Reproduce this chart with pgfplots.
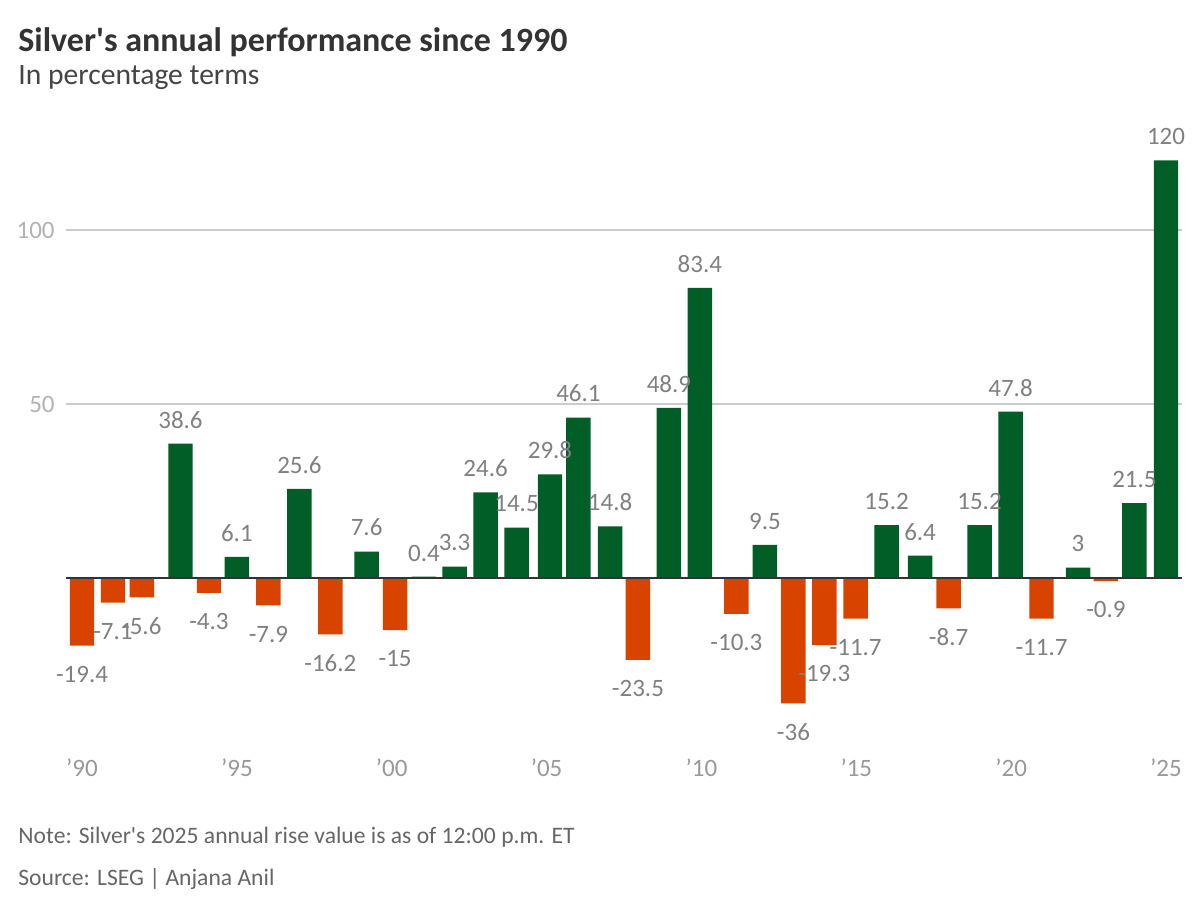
\documentclass[border=0pt]{standalone}
\usepackage{pgfplots}
\pgfplotsset{compat=1.18}
\usepackage{pgfplotstable}
\usepackage{fontspec}
\setmainfont{Carlito}

\definecolor{gain}{RGB}{0,94,38}
\definecolor{loss}{RGB}{217,67,0}
\definecolor{titlegray}{HTML}{333333}
\definecolor{subgray}{HTML}{444444}
\definecolor{labelgray}{HTML}{808080}
\definecolor{notegray}{HTML}{666666}

% bar positions are slightly off whole years in the original
\pgfplotstableread{
x y label
1993.18 38.6 38.6
1995.00 6.1 6.1
1997.02 25.6 25.6
1999.19 7.6 7.6
2001.04 0.4 0.4
2002.03 3.3 3.3
2003.03 24.6 24.6
2004.03 14.5 14.5
2005.11 29.8 29.8
2006.03 46.1 46.1
2007.05 14.8 14.8
2008.95 48.9 48.9
2009.95 83.4 83.4
2012.05 9.5 9.5
2015.98 15.2 15.2
2017.06 6.4 6.4
2018.98 15.2 15.2
2019.98 47.8 47.8
2022.16 3 3
2023.98 21.5 21.5
2025.00 120 120
}\gains

\pgfplotstableread{
x y label
1990.00 -19.4 -19.4
1991.00 -7.1 -7.1
1991.93 -5.6 -5.6
1994.10 -4.3 -4.3
1996.02 -7.9 -7.9
1998.02 -16.2 -16.2
2000.11 -15 -15
2007.95 -23.5 -23.5
2011.13 -10.3 -10.3
2012.97 -36 -36
2013.97 -19.3 -19.3
2014.98 -11.7 -11.7
2017.98 -8.7 -8.7
2020.98 -11.7 -11.7
2023.06 -0.9 -0.9
}\losses

\begin{document}
\begin{tikzpicture}[x=1pt,y=1pt]
\path[use as bounding box] (0,0) rectangle (600,454.5);

\node[anchor=base west, inner sep=0pt, text=titlegray,
  font=\bfseries\fontsize{17}{20}\selectfont] at (9,428.5)
  {Silver\textquotesingle s annual performance since 1990};
\node[anchor=base west, inner sep=0pt, text=subgray,
  font=\fontsize{14.8}{17}\selectfont] at (9,412)
  {In percentage terms};

\node[anchor=base west, inner sep=0pt, text=notegray,
  font=\fontsize{11.8}{14}\selectfont] at (9,32.5)
  {Note: Silver\textquotesingle s 2025 annual rise value is as of 12:00 p.m. ET};
\node[anchor=base west, inner sep=0pt, text=notegray,
  font=\fontsize{11.8}{14}\selectfont] at (9,11.5)
  {Source: LSEG | Anjana Anil};

\begin{axis}[
    at={(33pt,78.5pt)}, anchor=south west,
    x=15.4855pt, y=1.74pt,
    xmin=1989.483, xmax=2025.517,
    ymin=-50, ymax=125,
    ybar,
    clip=false,
    axis line style={draw=none},
    major tick length=0pt,
    xtick={1990,1995,2000,2005,2010,2015,2020,2025},
    xticklabels={'90,'95,'00,'05,'10,'15,'20,'25},
    ytick={50,100},
    yticklabels={50,100},
    ymajorgrids=true,
    grid style={draw=black!20, line width=0.75pt},
    xticklabel style={anchor=north, inner sep=0pt, yshift=-3pt,
      text=black!40, font=\fontsize{12.5}{15}\selectfont},
    yticklabel style={anchor=east, inner sep=0pt, xshift=-5.5pt,
      text=black!30, font=\fontsize{12.5}{15}\selectfont},
    point meta=explicit symbolic,
    nodes near coords,
    every node near coord/.append style={text=labelgray,
      font=\fontsize{12.5}{15}\selectfont},
]

\addplot[fill=gain, draw=none, bar width=0.79, bar shift=0pt,
  every node near coord/.append style={anchor=south, inner sep=7.5pt}]
  table[x=x, y=y, meta=label] {\gains};

\addplot[fill=loss, draw=none, bar width=0.79, bar shift=0pt,
  every node near coord/.append style={anchor=north, inner sep=10pt}]
  table[x=x, y=y, meta=label] {\losses};

\draw[black!80, line width=1pt] (axis cs:1989.483,0) -- (axis cs:2025.517,0);

\end{axis}
\end{tikzpicture}
\end{document}
